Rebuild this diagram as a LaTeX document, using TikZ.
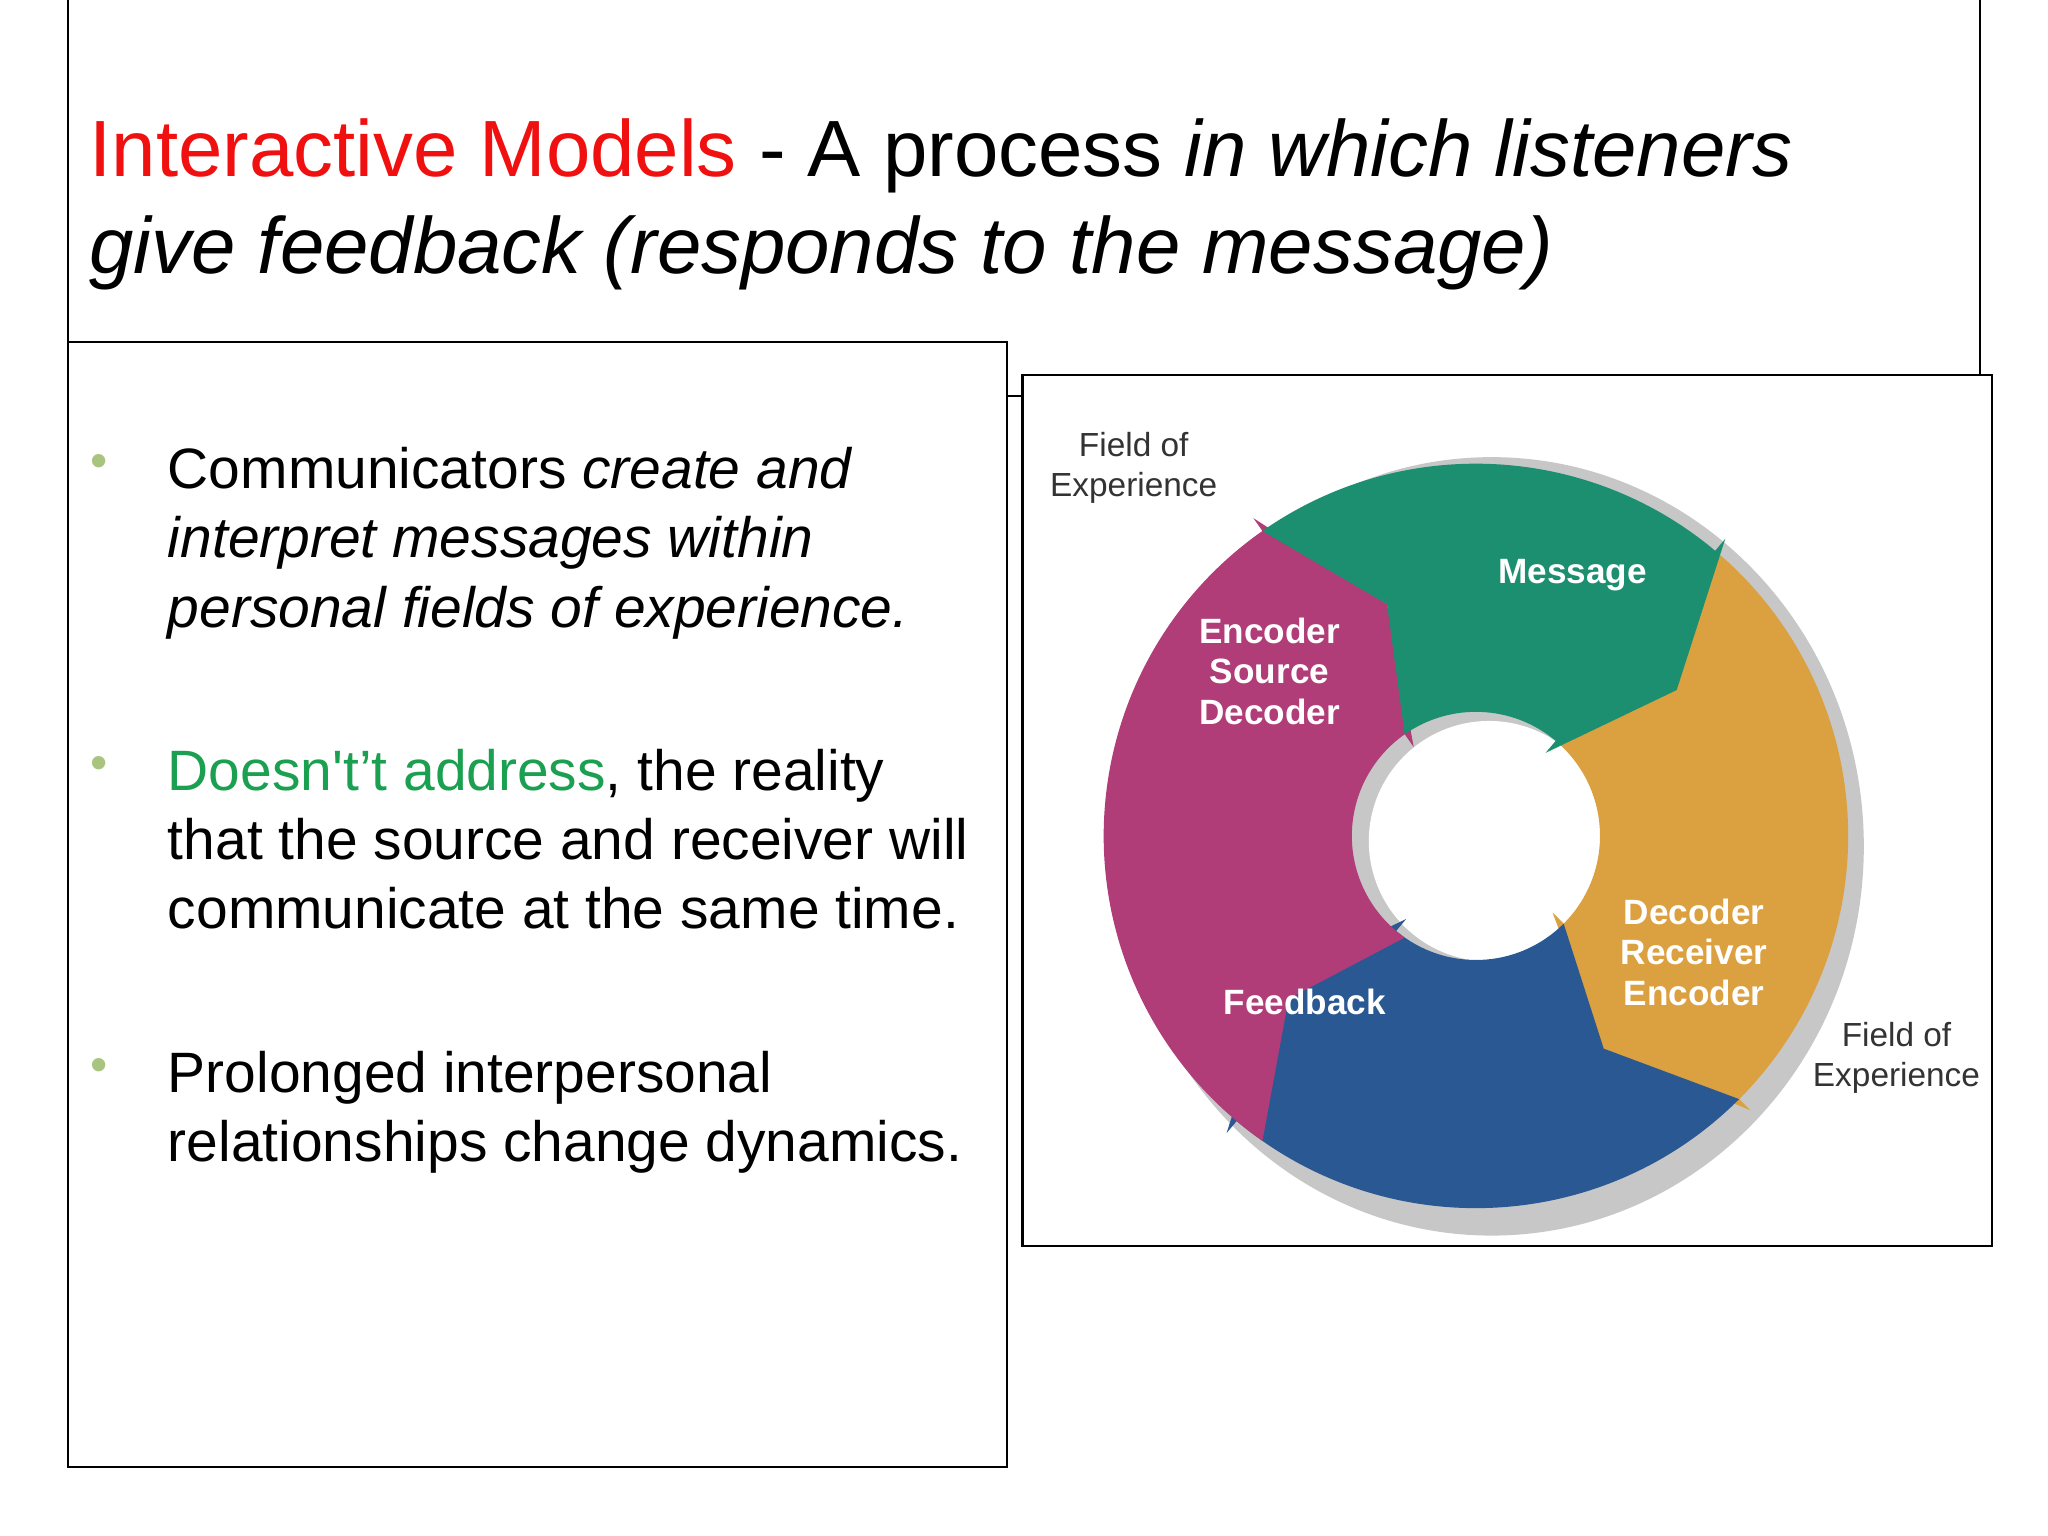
\documentclass[tikz,border=0pt]{standalone}
\usepackage{fontspec}
\setmainfont{Liberation Sans}
\definecolor{tred}{HTML}{F01010}
\definecolor{tgreen}{HTML}{1AA050}
\definecolor{bul}{HTML}{A9C47F}
\definecolor{cgreen}{HTML}{1C8F70}
\definecolor{corange}{HTML}{DBA040}
\definecolor{cblue}{HTML}{2A5893}
\definecolor{cmag}{HTML}{B03C78}
\begin{document}
\begin{tikzpicture}[x=0.01306cm,y=-0.01306cm,
  frame/.style={draw=black,line width=0.7pt},
  para/.style={anchor=north west,align=left,inner sep=0,font=\fontsize{16.2}{19.7}\selectfont},
  bullet/.style={text=bul,font=\fontsize{14}{14}\selectfont,inner sep=0},
  lab/.style={text=white,font=\fontsize{10}{11.5}\selectfont\bfseries,align=center},
  fld/.style={text=black!80,font=\fontsize{9.5}{11.5}\selectfont,align=center}]
\useasboundingbox (0,0) rectangle (1568,1176);
\fill[white] (0,0) rectangle (1568,1176);
% frames
\draw[frame] (52,0) -- (52,1123) -- (771,1123) -- (771,262) -- (52,262);
\draw[frame] (1516,0) -- (1516,287);
\draw[frame] (771,303) -- (783,303);
\draw[frame] (783,287) rectangle (1525,954);
% title
\node[anchor=north west,align=left,inner sep=0,font=\fontsize{22.7}{27.8}\selectfont] (title) at (68,90)
 {\textcolor{tred}{Interactive Models} - A process \textit{in which listeners}\\
  \textit{give feedback (responds to the message)}};
% bullets
\node[para] (p1) at (128,342) {Communicators \textit{create and}\\ \textit{interpret messages within}\\ \textit{personal fields of experience.}};
\node[para] (p2) at (128,573) {\textcolor{tgreen}{Doesn\textquotesingle t’t address}, the reality\\ that the source and receiver will\\ communicate at the same time.};
\node[para] (p3) at (128,804) {Prolonged interpersonal\\ relationships change dynamics.};
\node[bullet] (b1) at (76,357) {•};
\node[bullet] (b2) at (76,588) {•};
\node[bullet] (b3) at (76,819) {•};
% ring
\begin{scope}[shift={(1130,640)},y=0.01306cm]
 \fill[black!22] (12,-8) ellipse (285 and 298);
 \fill[white] (10,-4) circle (92);
 \def\Ro{285}\def\Ri{95}\def\Rm{190}
 \foreach \s/\e/\c in {50/-45/corange,-45/-130/cblue,235/125/cmag,125/50/cgreen}{
  \fill[\c] (\s:\Ro) arc (\s:\e:\Ro) -- (\e:\Ro+12) -- (\e-14:\Rm) -- (\e:\Ri-12) -- (\e:\Ri)
    arc (\e:\s:\Ri) -- (\s-14:\Rm) -- cycle;
 }
\end{scope}
\node[lab] (msg) at (1204,440) {Message};
\node[lab] (enc) at (972,514) {Encoder\\Source\\Decoder};
\node[lab] (dec) at (1297,729) {Decoder\\Receiver\\Encoder};
\node[lab] (fb) at (999,767) {Feedback};
\node[fld] (f1) at (868,358) {Field of\\Experience};
\node[fld] (f2) at (1452,810) {Field of\\Experience};
\end{tikzpicture}
\end{document}
